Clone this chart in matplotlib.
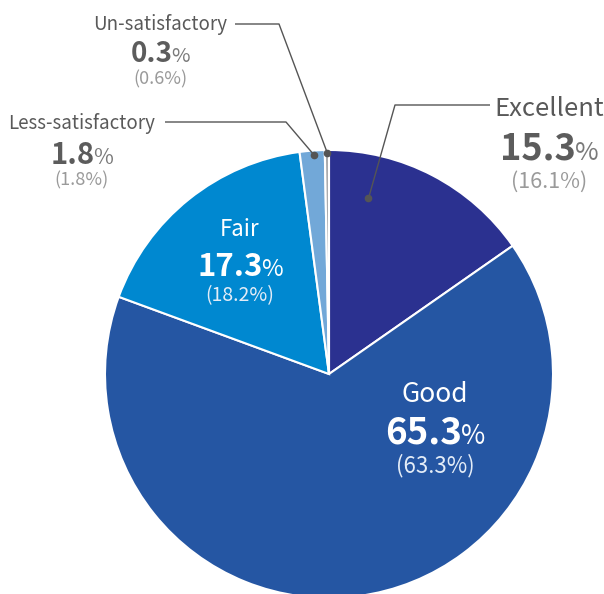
import matplotlib
matplotlib.use("Agg")
import matplotlib.pyplot as plt
import numpy as np

plt.rcParams['font.family'] = ['Noto Sans CJK KR', 'DejaVu Sans']

categories = ["Excellent", "Good", "Fair", "Less-satisfactory", "Un-satisfactory"]
values = [15.3, 65.3, 17.3, 1.8, 0.3]
prev_values = [16.1, 63.3, 18.2, 1.8, 0.6]
colors = ["#2b3190", "#2556a3", "#0088d0", "#72a8d8", "#a8a9ab"]

W, H = 604, 594
fig = plt.figure(figsize=(W / 100, H / 100), dpi=100)
ax = fig.add_axes([0, 0, 1, 1])

CX, CY, R = 329, H - 374, 224
wedges, _ = ax.pie(values, colors=colors, startangle=90, counterclock=False,
                   center=(CX, CY), radius=R,
                   wedgeprops=dict(edgecolor="white", linewidth=1.5))
ax.set_xlim(0, W)
ax.set_ylim(0, H)
ax.set_aspect("equal")
ax.axis("off")

fig.canvas.draw()
renderer = fig.canvas.get_renderer()

NAME_C, NUM_C, PCT_C, PAR_C = "#595959", "#5c5c5c", "#7a7a7a", "#9a9a9a"

# label layout: x, baselines (image px from top) and font sizes
layout = {
    0: dict(x=549, yn=116, yv=160, yp=188, fn=18.5, fv=26, fpct=18.5, fp=15.5, inside=False),
    1: dict(x=435, yn=402, yv=444, yp=472, fn=19, fv=26.5, fpct=19, fp=16, inside=True),
    2: dict(x=240, yn=236, yv=276, yp=301, fn=16, fv=22.5, fpct=17, fp=14, inside=True),
    3: dict(x=82, yn=129, yv=164, yp=185, fn=13.5, fv=21, fpct=15.5, fp=13, inside=False),
    4: dict(x=160, yn=30, yv=62, yp=84, fn=13.5, fv=20, fpct=14.5, fp=13, inside=False),
}


def group_label(i, x, yn, yv, yp, fn, fv, fpct, fp, inside):
    cn = "white" if inside else NAME_C
    cu = "white" if inside else NUM_C
    cp = "white" if inside else PCT_C
    cq = "#e3ecf7" if inside else PAR_C
    ax.text(x, H - yn, categories[i], ha="center", va="baseline",
            fontsize=fn, fontweight="medium", color=cn)
    t1 = ax.text(x, H - yv, f"{values[i]:.1f}", ha="left", va="baseline",
                 fontsize=fv, fontweight="bold", color=cu)
    t2 = ax.text(x, H - yv, "%", ha="left", va="baseline",
                 fontsize=fpct, fontweight="light", color=cp)
    w1 = t1.get_window_extent(renderer).width
    w2 = t2.get_window_extent(renderer).width
    gap = -1
    x0 = x - (w1 + gap + w2) / 2
    t1.set_x(x0)
    t2.set_x(x0 + w1 + gap)
    ax.text(x, H - yp, f"({prev_values[i]:.1f}%)", ha="center", va="baseline",
            fontsize=fp, fontweight="light", color=cq)


def wedge_point(i, frac, r):
    w = wedges[i]
    th = np.deg2rad(w.theta1 + frac * (w.theta2 - w.theta1))
    return CX + r * np.cos(th), CY + r * np.sin(th)


for i, kw in layout.items():
    group_label(i, **kw)

LINE_C = "#555555"
# leaders: (index, frac along wedge, radius, corner, end)
leaders = [
    (0, 0.77, 180, (395, H - 105), (490, H - 105)),
    (3, 0.45, 220, (286, H - 122), (165, H - 122)),
    (4, 0.4, 221, (279, H - 24), (235, H - 24)),
]
for i, frac, r, corner, end in leaders:
    px, py = wedge_point(i, frac, r)
    ax.plot([px, corner[0], end[0]], [py, corner[1], end[1]], color=LINE_C,
            lw=1.0, solid_capstyle="butt")
    ax.plot([px], [py], "o", color=LINE_C, ms=4.5)

fig.savefig("out.png", dpi=100)
